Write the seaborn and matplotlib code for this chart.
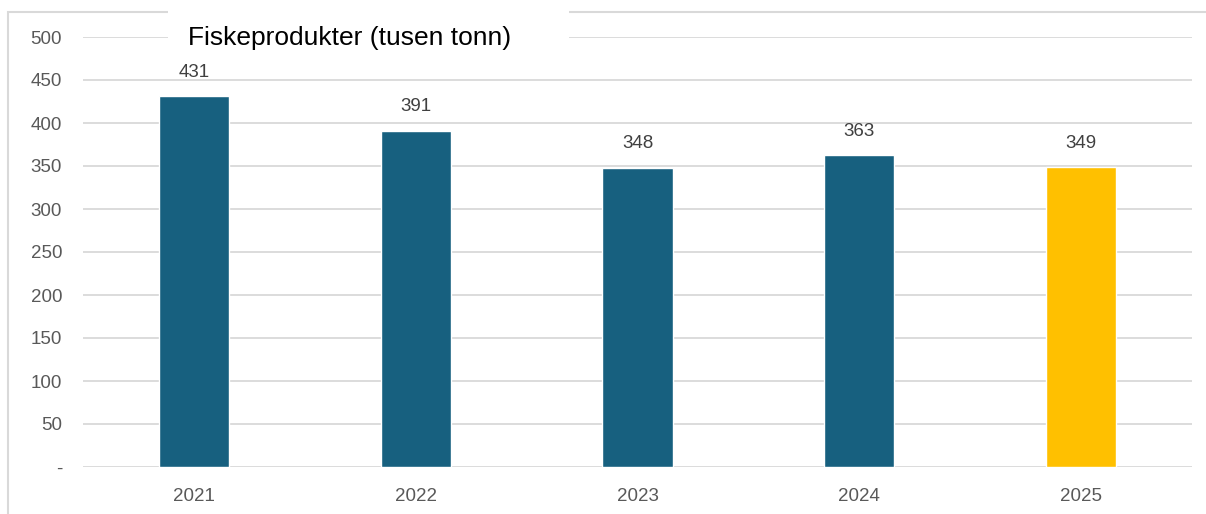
import matplotlib
matplotlib.use("Agg")
import matplotlib.pyplot as plt
import seaborn as sns
import pandas as pd
from matplotlib.patches import Rectangle

years = ["2021", "2022", "2023", "2024", "2025"]
values = [431, 391, 348, 363, 349]
bar_colors = ["#17607F", "#17607F", "#17607F", "#17607F", "#FFC000"]
yticks = [0, 50, 100, 150, 200, 250, 300, 350, 400, 450, 500]
ytick_labels = ["-", "50", "100", "150", "200", "250", "300", "350", "400", "450", "500"]
title = "Fiskeprodukter (tusen tonn)"

sns.set_style("white")
plt.rcParams["font.family"] = ["Liberation Sans", "DejaVu Sans"]

df = pd.DataFrame({"year": years, "value": values})

fig = plt.figure(figsize=(12.06, 5.14), dpi=100)
ax = fig.add_axes([83/1206, 1-467/514, 1109/1206, 430/514])

sns.barplot(data=df, x="year", y="value", hue="year", palette=bar_colors,
            width=0.316, legend=False, ax=ax, saturation=1)

ax.set_xlim(-0.5, 4.5)
ax.set_ylim(0, 500)
ax.set_yticks(yticks)
ax.set_yticklabels(ytick_labels)
ax.yaxis.grid(True, color="#D9D9D9", linewidth=1.3)
ax.set_axisbelow(True)
for s in ax.spines.values():
    s.set_visible(False)
ax.set_xlabel("")
ax.set_ylabel("")
ax.tick_params(axis="both", length=0, labelsize=13.5, labelcolor="#595959")
ax.tick_params(axis="y", pad=15)
ax.tick_params(axis="x", pad=15)

for i, v in enumerate(values):
    ax.annotate(str(v), (i, v), xytext=(0, 11), textcoords="offset points",
                ha="center", va="bottom", fontsize=13.5, color="#404040")

# outer frame (light gray), extending past the bottom/right edges
fig.add_artist(Rectangle((8/1206, -0.05), 1.2, 1-12/514+0.05, transform=fig.transFigure,
                         fill=False, edgecolor="#D9D9D9", linewidth=1.5))
# title box
fig.add_artist(Rectangle((168/1206, 1-60/514), (569-168)/1206, 60/514,
                         transform=fig.transFigure, facecolor="white", edgecolor="none", zorder=5))
fig.text(188/1206, 1-38/514, title, fontsize=19, color="black", ha="left", va="center", zorder=6)

fig.savefig("out.png", dpi=100)
